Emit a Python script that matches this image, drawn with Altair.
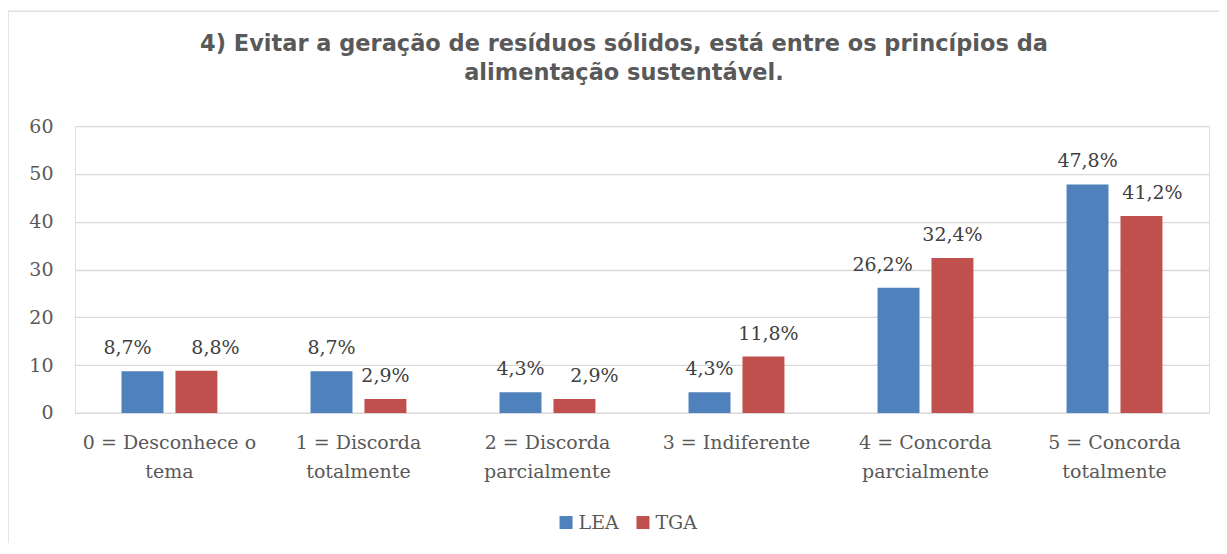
import altair as alt
import pandas as pd

# ---- data ----
categories = [
    "0 = Desconhece o\ntema",
    "1 = Discorda\ntotalmente",
    "2 = Discorda\nparcialmente",
    "3 = Indiferente",
    "4 = Concorda\nparcialmente",
    "5 = Concorda\ntotalmente",
]
series = ["LEA", "TGA"]
lea_values = [8.7, 8.7, 4.3, 4.3, 26.2, 47.8]
tga_values = [8.8, 2.9, 2.9, 11.8, 32.4, 41.2]
y_ticks = [0, 10, 20, 30, 40, 50, 60]
title_lines = [
    "4) Evitar a geração de resíduos sólidos, está entre os princípios da",
    "alimentação sustentável.",
]

# ---- style ----
colors = ["#4F81BD", "#C0504D"]
lea_label_dx = [-15, 0, 0, 0, -16, 0]
tga_label_dx = [19, 0, 20, 5, 0, 11]
SERIF = "DejaVu Serif"
SANS = "DejaVu Sans"
GRID = "#d9d9d9"
TXT = "#595959"

rows = []
for i, c in enumerate(categories):
    rows.append({"cat": c, "series": "LEA", "value": lea_values[i], "dx": lea_label_dx[i]})
    rows.append({"cat": c, "series": "TGA", "value": tga_values[i], "dx": tga_label_dx[i]})
df = pd.DataFrame(rows)

x_enc = alt.X(
    "cat:N",
    sort=categories,
    scale=alt.Scale(paddingInner=0, paddingOuter=0),
    axis=alt.Axis(
        title=None,
        labelAngle=0,
        labelExpr="split(datum.label, '\\n')",
        domain=True,
        domainColor=GRID,
        domainWidth=1.3,
        ticks=False,
        labelPadding=21,
        labelFont=SERIF,
        labelFontSize=19,
        labelLineHeight=29,
        labelColor=TXT,
        labelLimit=400,
        labelOverlap=False,
    ),
)
xoff_enc = alt.XOffset(
    "series:N", sort=series, scale=alt.Scale(paddingInner=0.222, paddingOuter=0.863)
)
y_enc = alt.Y(
    "value:Q",
    scale=alt.Scale(domain=[0, 60]),
    axis=alt.Axis(
        values=y_ticks,
        title=None,
        domain=False,
        ticks=False,
        grid=True,
        gridColor=GRID,
        gridWidth=1.3,
        labelFont=SERIF,
        labelFontSize=19,
        labelColor=TXT,
        labelPadding=22,
    ),
)

base = alt.Chart(df).transform_calculate(
    label="replace(format(datum.value, '.1f'), '.', ',') + '%'"
)

bars = base.mark_bar().encode(
    x=x_enc,
    xOffset=xoff_enc,
    y=y_enc,
    color=alt.Color(
        "series:N",
        sort=series,
        scale=alt.Scale(domain=series, range=colors),
        legend=alt.Legend(
            title=None,
            orient="none",
            legendX=482,
            legendY=387,
            direction="horizontal",
            symbolType="square",
            symbolSize=169,
            symbolStrokeWidth=0,
            labelFont=SERIF,
            labelFontSize=19,
            labelColor=TXT,
            labelOffset=3,
            columnPadding=14,
            padding=0,
        ),
    ),
)

text_layers = []
for d in sorted(set(lea_label_dx + tga_label_dx)):
    text_layers.append(
        base.transform_filter(alt.datum.dx == d)
        .mark_text(dx=d, dy=-17, baseline="alphabetic", font=SERIF, fontSize=19, color="#404040")
        .encode(x=x_enc, xOffset=xoff_enc, y=y_enc, text="label:N")
    )

frame = (
    alt.Chart(pd.DataFrame({"a": [0]}))
    .mark_rect(fill="transparent", stroke=GRID, strokeWidth=1.3)
    .encode(x=alt.value(-67), x2=alt.value(1300), y=alt.value(-115), y2=alt.value(600))
)

chart = (
    alt.layer(frame, bars, *text_layers)
    .properties(
        width=1135,
        height=287,
        autosize=alt.AutoSizeParams(type="none"),
        padding={"left": 67, "top": 118, "right": 10, "bottom": 130},
        title=alt.TitleParams(
            text=title_lines,
            font=SANS,
            fontSize=22.5,
            fontWeight="bold",
            color=TXT,
            anchor="middle",
            baseline="bottom",
            lineHeight=29,
            dx=-18,
            offset=-97,
        ),
    )
    .configure_view(stroke=None)
    .configure(background="white")
)

chart.save("out.html", embed_options={"renderer": "svg", "actions": False})
